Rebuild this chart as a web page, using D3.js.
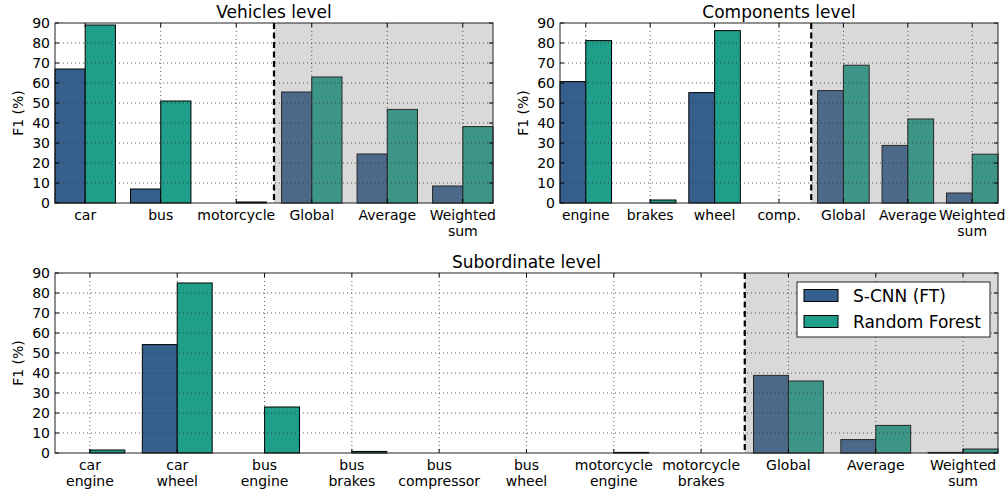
<!DOCTYPE html>
<html>
<head>
<meta charset="utf-8">
<script src="https://cdn.jsdelivr.net/npm/d3@7"></script>
<style>
  html, body { margin: 0; padding: 0; background: #fff; }
  svg { display: block; font-family: "DejaVu Sans", sans-serif; }
</style>
</head>
<body>
<svg id="chart" width="1006" height="490"></svg>
<script>
// ---- data ----
const vehCategories = ["car", "bus", "motorcycle", "Global", "Average", "Weighted\nsum"];
const vehSCNN = [67, 7, 0, 55.5, 24.5, 8.5];
const vehRF   = [89, 51, 0.5, 63, 46.8, 38.2];

const compCategories = ["engine", "brakes", "wheel", "comp.", "Global", "Average", "Weighted\nsum"];
const compSCNN = [60.7, 0, 55.2, 0, 56.2, 28.8, 5];
const compRF   = [81.2, 1.5, 86.2, 0, 68.9, 42, 24.4];

const subCategories = ["car\nengine", "car\nwheel", "bus\nengine", "bus\nbrakes", "bus\ncompressor",
  "bus\nwheel", "motorcycle\nengine", "motorcycle\nbrakes", "Global", "Average", "Weighted\nsum"];
const subSCNN = [0, 54.2, 0, 0, 0, 0, 0, 0, 38.8, 6.7, 0.3];
const subRF   = [1.5, 85, 23, 0.8, 0, 0, 0.3, 0, 36, 13.8, 2];

const yTicks = [0, 10, 20, 30, 40, 50, 60, 70, 80, 90];
const seriesNames = ["S-CNN (FT)", "Random Forest"];
const seriesColors = ["#355f8d", "#1f9e89"];
const summaryCount = 3;

const svg = d3.select("#chart");

function panel(cfg) {
  const { x0, x1, y0, y1, cats, a, b, title } = cfg;
  const n = cats.length;
  const x = d3.scaleLinear().domain([-0.4, n - 1 + 0.4]).range([x0, x1]);
  const y = d3.scaleLinear().domain([0, 90]).range([y1, y0]);
  const g = svg.append("g");

  // bars
  const bw = 0.4;
  cats.forEach((c, i) => {
    g.append("rect")
      .attr("x", x(i - bw)).attr("width", x(i) - x(i - bw))
      .attr("y", y(a[i])).attr("height", y(0) - y(a[i]))
      .attr("fill", seriesColors[0]).attr("stroke", "#000").attr("stroke-width", 1);
    g.append("rect")
      .attr("x", x(i)).attr("width", x(i + bw) - x(i))
      .attr("y", y(b[i])).attr("height", y(0) - y(b[i]))
      .attr("fill", seriesColors[1]).attr("stroke", "#000").attr("stroke-width", 1);
  });

  // shaded summary region
  const sx = x(n - summaryCount - 0.5);
  g.append("rect")
    .attr("x", sx).attr("y", y0).attr("width", x1 - sx).attr("height", y1 - y0)
    .attr("fill", "#808080").attr("fill-opacity", 0.3);

  // grid
  const grid = g.append("g").attr("stroke", "#333").attr("stroke-width", 0.8)
    .attr("stroke-dasharray", "1,3").attr("fill", "none");
  yTicks.forEach(t => {
    if (t === 0 || t === 90) return;
    grid.append("line").attr("x1", x0).attr("x2", x1).attr("y1", y(t)).attr("y2", y(t));
  });
  cats.forEach((c, i) => {
    grid.append("line").attr("x1", x(i)).attr("x2", x(i)).attr("y1", y0).attr("y2", y1);
  });

  // dashed separator
  g.append("line").attr("x1", sx).attr("x2", sx).attr("y1", y0).attr("y2", y1)
    .attr("stroke", "#000").attr("stroke-width", 2.2).attr("stroke-dasharray", "6,3.5");

  // ticks (inward)
  const tk = g.append("g").attr("stroke", "#000").attr("stroke-width", 1);
  cats.forEach((c, i) => {
    tk.append("line").attr("x1", x(i)).attr("x2", x(i)).attr("y1", y1).attr("y2", y1 - 4);
    tk.append("line").attr("x1", x(i)).attr("x2", x(i)).attr("y1", y0).attr("y2", y0 + 4);
  });
  yTicks.forEach(t => {
    tk.append("line").attr("x1", x0).attr("x2", x0 + 4).attr("y1", y(t)).attr("y2", y(t));
    tk.append("line").attr("x1", x1).attr("x2", x1 - 4).attr("y1", y(t)).attr("y2", y(t));
  });

  // frame
  g.append("rect").attr("x", x0).attr("y", y0).attr("width", x1 - x0).attr("height", y1 - y0)
    .attr("fill", "none").attr("stroke", "#222").attr("stroke-width", 1);

  // y tick labels
  yTicks.forEach(t => {
    g.append("text").attr("x", x0 - 5).attr("y", y(t)).attr("dy", "0.36em")
      .attr("text-anchor", "end").attr("font-size", 14).attr("fill", "#000").text(t);
  });

  // x tick labels
  cats.forEach((c, i) => {
    const lines = c.split("\n");
    const t = g.append("text").attr("text-anchor", "middle").attr("font-size", 14).attr("fill", "#000");
    lines.forEach((ln, k) => {
      t.append("tspan").attr("x", x(i)).attr("y", y1 + 17 + k * 16).text(ln);
    });
  });

  // y label
  g.append("text")
    .attr("transform", `translate(${x0 - 37},${(y0 + y1) / 2}) rotate(-90)`)
    .attr("text-anchor", "middle").attr("dy", "0.35em").attr("font-size", 14).text("F1 (%)");

  // title
  g.append("text").attr("x", (x0 + x1) / 2).attr("y", y0 - 5)
    .attr("text-anchor", "middle").attr("font-size", 17).text(title);

  return { x, y, g };
}

panel({ x0: 55, x1: 493, y0: 23, y1: 203, cats: vehCategories, a: vehSCNN, b: vehRF, title: "Vehicles level" });
panel({ x0: 560, x1: 998, y0: 23, y1: 203, cats: compCategories, a: compSCNN, b: compRF, title: "Components level" });
const bottom = panel({ x0: 55, x1: 998, y0: 273, y1: 453, cats: subCategories, a: subSCNN, b: subRF, title: "Subordinate level" });

// legend
const lg = svg.append("g");
lg.append("rect").attr("x", 797).attr("y", 282).attr("width", 193).attr("height", 55)
  .attr("fill", "#fff").attr("stroke", "#222").attr("stroke-width", 1);
seriesNames.forEach((s, k) => {
  lg.append("rect").attr("x", 804).attr("y", 289.5 + k * 26).attr("width", 34).attr("height", 12)
    .attr("fill", seriesColors[k]).attr("stroke", "#000").attr("stroke-width", 1);
  lg.append("text").attr("x", 853).attr("y", 302 + k * 25.5).attr("font-size", 17).text(s);
});
</script>
</body>
</html>
